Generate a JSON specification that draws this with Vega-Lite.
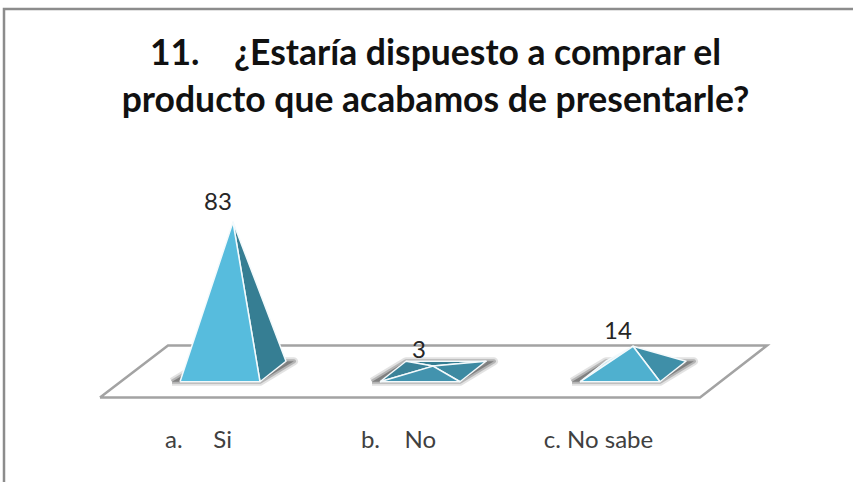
{
  "$schema": "https://vega.github.io/schema/vega-lite/v6.json",
  "width": 853,
  "height": 482,
  "padding": 0,
  "autosize": "none",
  "background": "white",
  "config": {"view": {"stroke": null}},
  "title": {
    "text": ["11.\u00a0\u00a0\u00a0\u00a0¿Estaría dispuesto a comprar el", "producto que acabamos de presentarle?"],
    "font": "Lato",
    "fontWeight": "bold",
    "fontSize": 35.5,
    "lineHeight": 47,
    "color": "#111111",
    "anchor": "middle",
    "frame": "group",
    "baseline": "alphabetic",
    "offset": -147,
    "dx": 9
  },
  "datasets": {
    "marco": [
      {"n": 1, "x": 0.02, "y": -61.4},
      {"n": 2, "x": 0.02, "y": 201.4},
      {"n": 3, "x": 4.265, "y": 201.4}
    ],
    "piso": [
      {"n": 1, "x": 0.5, "y": -14.4},
      {"n": 2, "x": 3.5, "y": -14.4},
      {"n": 3, "x": 3.835, "y": 14.4},
      {"n": 4, "x": 0.84, "y": 14.4},
      {"n": 5, "x": 0.5, "y": -14.4}
    ],
    "sombras": [
      {"categoria": "a", "n": 1, "x": 0.86, "y": -5.7},
      {"categoria": "a", "n": 2, "x": 1.30, "y": -5.7},
      {"categoria": "a", "n": 3, "x": 1.47, "y": 5.7},
      {"categoria": "a", "n": 4, "x": 1.03, "y": 5.7},
      {"categoria": "a", "n": 5, "x": 0.86, "y": -5.7},
      {"categoria": "b", "n": 1, "x": 1.86, "y": -5.7},
      {"categoria": "b", "n": 2, "x": 2.30, "y": -5.7},
      {"categoria": "b", "n": 3, "x": 2.47, "y": 5.7},
      {"categoria": "b", "n": 4, "x": 2.03, "y": 5.7},
      {"categoria": "b", "n": 5, "x": 1.86, "y": -5.7},
      {"categoria": "c", "n": 1, "x": 2.86, "y": -5.7},
      {"categoria": "c", "n": 2, "x": 3.30, "y": -5.7},
      {"categoria": "c", "n": 3, "x": 3.47, "y": 5.7},
      {"categoria": "c", "n": 4, "x": 3.03, "y": 5.7},
      {"categoria": "c", "n": 5, "x": 2.86, "y": -5.7}
    ],
    "caras": [
      {"cara": "a-lado", "n": 1, "x": 1.30, "y": -5.7},
      {"cara": "a-lado", "n": 2, "x": 1.43, "y": 5.7},
      {"cara": "a-lado", "n": 3, "x": 1.165, "y": 83},
      {"cara": "a-lado", "n": 4, "x": 1.30, "y": -5.7},
      {"cara": "a-frente", "n": 1, "x": 0.90, "y": -5.7},
      {"cara": "a-frente", "n": 2, "x": 1.30, "y": -5.7},
      {"cara": "a-frente", "n": 3, "x": 1.165, "y": 83},
      {"cara": "a-frente", "n": 4, "x": 0.90, "y": -5.7},
      {"cara": "b-fondo", "n": 1, "x": 2.03, "y": 5.7},
      {"cara": "b-fondo", "n": 2, "x": 2.43, "y": 5.7},
      {"cara": "b-fondo", "n": 3, "x": 2.165, "y": 3},
      {"cara": "b-fondo", "n": 4, "x": 2.03, "y": 5.7},
      {"cara": "b-izquierda", "n": 1, "x": 1.90, "y": -5.7},
      {"cara": "b-izquierda", "n": 2, "x": 2.03, "y": 5.7},
      {"cara": "b-izquierda", "n": 3, "x": 2.165, "y": 3},
      {"cara": "b-izquierda", "n": 4, "x": 1.90, "y": -5.7},
      {"cara": "b-lado", "n": 1, "x": 2.30, "y": -5.7},
      {"cara": "b-lado", "n": 2, "x": 2.43, "y": 5.7},
      {"cara": "b-lado", "n": 3, "x": 2.165, "y": 3},
      {"cara": "b-lado", "n": 4, "x": 2.30, "y": -5.7},
      {"cara": "b-frente", "n": 1, "x": 1.90, "y": -5.7},
      {"cara": "b-frente", "n": 2, "x": 2.30, "y": -5.7},
      {"cara": "b-frente", "n": 3, "x": 2.165, "y": 3},
      {"cara": "b-frente", "n": 4, "x": 1.90, "y": -5.7},
      {"cara": "c-izquierda", "n": 1, "x": 2.90, "y": -5.7},
      {"cara": "c-izquierda", "n": 2, "x": 3.03, "y": 5.7},
      {"cara": "c-izquierda", "n": 3, "x": 3.165, "y": 14},
      {"cara": "c-izquierda", "n": 4, "x": 2.90, "y": -5.7},
      {"cara": "c-lado", "n": 1, "x": 3.30, "y": -5.7},
      {"cara": "c-lado", "n": 2, "x": 3.43, "y": 5.7},
      {"cara": "c-lado", "n": 3, "x": 3.165, "y": 14},
      {"cara": "c-lado", "n": 4, "x": 3.30, "y": -5.7},
      {"cara": "c-frente", "n": 1, "x": 2.90, "y": -5.7},
      {"cara": "c-frente", "n": 2, "x": 3.30, "y": -5.7},
      {"cara": "c-frente", "n": 3, "x": 3.165, "y": 14},
      {"cara": "c-frente", "n": 4, "x": 2.90, "y": -5.7}
    ],
    "etiquetas": [
      {"categoria": "a. Si", "valor": 83, "x": 1.09, "altura": 90},
      {"categoria": "b. No", "valor": 3, "x": 2.095, "altura": 7.5},
      {"categoria": "c. No sabe", "valor": 14, "x": 3.09, "altura": 18}
    ]
  },
  "layer": [
    {
      "data": {"name": "marco"},
      "mark": {"type": "line", "stroke": "#8c8c8c", "strokeWidth": 2.5},
      "encoding": {"order": {"field": "n"}}
    },
    {
      "data": {"name": "piso"},
      "mark": {"type": "line", "fill": "white", "stroke": "#a3a3a3", "strokeWidth": 2.5},
      "encoding": {"order": {"field": "n"}}
    },
    {
      "data": {"name": "sombras"},
      "mark": {"type": "line", "stroke": "#8a8a8a", "strokeWidth": 8, "strokeOpacity": 0.25, "fill": "#8a8a8a", "strokeJoin": "round"},
      "encoding": {"order": {"field": "n"}, "detail": {"field": "categoria"}}
    },
    {
      "data": {"name": "sombras"},
      "mark": {"type": "line", "stroke": "#707070", "strokeWidth": 4, "strokeOpacity": 0.4, "strokeJoin": "round"},
      "encoding": {"order": {"field": "n"}, "detail": {"field": "categoria"}}
    },
    {
      "data": {"name": "caras"},
      "mark": {"type": "line", "stroke": "#f4fafc", "strokeWidth": 1.5, "strokeJoin": "round"},
      "encoding": {
        "order": {"field": "n"},
        "detail": {"field": "cara"},
        "fill": {
          "field": "cara",
          "type": "nominal",
          "legend": null,
          "scale": {
            "domain": ["a-lado", "a-frente", "b-fondo", "b-izquierda", "b-lado", "b-frente", "c-izquierda", "c-lado", "c-frente"],
            "range": ["#367e93", "#57bcdd", "#367e93", "#3a8298", "#3d8aa2", "#4293ae", "#cfe8f1", "#3f8fa8", "#4fb0cf"]
          }
        }
      }
    },
    {
      "data": {"name": "etiquetas"},
      "mark": {"type": "text", "font": "Lato", "fontSize": 24, "color": "#262626", "baseline": "alphabetic", "align": "center"},
      "encoding": {
        "y": {"field": "altura", "type": "quantitative"},
        "text": {"field": "valor", "type": "quantitative"}
      }
    }
  ],
  "encoding": {
    "x": {
      "field": "x",
      "type": "quantitative",
      "scale": {"domain": [0, 4.265], "nice": false, "zero": false},
      "axis": {
        "values": [1, 2, 3],
        "title": null,
        "grid": false,
        "domain": false,
        "ticks": false,
        "offset": -63,
        "labelFont": "Lato",
        "labelFontSize": 24,
        "labelColor": "#404040",
        "labelPadding": 9,
        "labelOffset": -2,
        "labelFlush": false,
        "labelOverlap": false,
        "labelExpr": "datum.value === 1 ? 'a.\u00a0\u00a0\u00a0\u00a0\u00a0Si' : datum.value === 2 ? 'b.\u00a0\u00a0\u00a0\u00a0No' : 'c. No sabe'"
      }
    },
    "y": {
      "field": "y",
      "type": "quantitative",
      "scale": {"domain": [-61.39, 206.39], "nice": false, "zero": false},
      "axis": null
    }
  }
}
